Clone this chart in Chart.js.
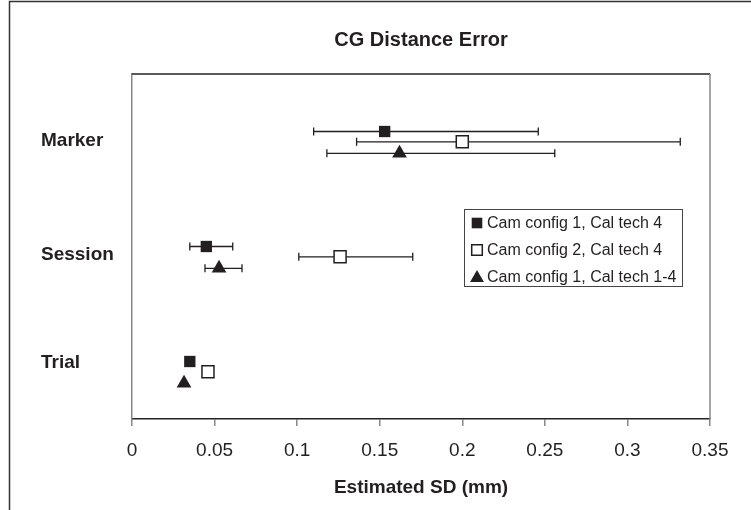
<!DOCTYPE html>
<html>
<head>
<meta charset="utf-8">
<script src="https://cdn.jsdelivr.net/npm/chart.js@4"></script>
<style>
  html, body { margin: 0; padding: 0; background: #fff; }
  #mycanvas { display: block; }
</style>
</head>
<body>
<canvas id="mycanvas" width="751" height="510"></canvas>
<script>
// categories and where their labels sit on the (hidden) numeric y axis
var categories = ['Trial', 'Session', 'Marker'];
var categoryPos = [0.49, 1.43, 2.42];

var xTicks = [0, 0.05, 0.1, 0.15, 0.2, 0.25, 0.3, 0.35];

var seriesNames = ['Cam config 1, Cal tech 4', 'Cam config 2, Cal tech 4', 'Cam config 1, Cal tech 1-4'];

// Cam config 1, Cal tech 4  (Trial, Session, Marker)
var s1Y    = [0.5, 1.5, 2.5];
var s1Mean = [0.035, 0.045, 0.153];
var s1Low  = [0.035, 0.035, 0.110];
var s1High = [0.035, 0.061, 0.246];

// Cam config 2, Cal tech 4
var s2Y    = [0.41, 1.41, 2.41];
var s2Mean = [0.046, 0.126, 0.200];
var s2Low  = [0.0435, 0.101, 0.136];
var s2High = [0.049, 0.170, 0.332];

// Cam config 1, Cal tech 1-4
var s3Y    = [0.31, 1.31, 2.31];
var s3Mean = [0.0315, 0.0527, 0.162];
var s3Low  = [0.0315, 0.0442, 0.118];
var s3High = [0.0315, 0.0666, 0.256];

function pts(xs, ys) {
	var out = [];
	for (var i in xs) {
		out.push({ x: xs[i], y: ys[i] });
	}
	return out;
}

var ink = '#231f20';
var font = "'Liberation Sans', Arial, sans-serif";

var chartdata = {
	datasets: [
		{
			label: seriesNames[0],
			data: pts(s1Mean, s1Y),
			low: s1Low, high: s1High,
			pointStyle: 'rect',
			pointRadius: 8,
			backgroundColor: ink,
			borderColor: ink,
			borderWidth: 0
		},
		{
			label: seriesNames[1],
			data: pts(s2Mean, s2Y),
			low: s2Low, high: s2High,
			pointStyle: 'rect',
			pointRadius: 8.5,
			backgroundColor: '#fff',
			borderColor: ink,
			borderWidth: 1.5
		},
		{
			label: seriesNames[2],
			data: pts(s3Mean, s3Y),
			low: s3Low, high: s3High,
			pointStyle: 'triangle',
			pointRadius: 8.5,
			backgroundColor: ink,
			borderColor: ink,
			borderWidth: 0
		}
	]
};

// frame, plot box, error bars, title and legend
var decor = {
	id: 'decor',
	beforeDraw: function(chart) {
		var c = chart.ctx;
		c.save();
		c.fillStyle = '#fff';
		c.fillRect(0, 0, chart.width, chart.height);
		c.strokeStyle = '#333';
		c.lineWidth = 1.5;
		c.beginPath();
		c.moveTo(9.5, chart.height);
		c.lineTo(9.5, 1.5);
		c.lineTo(chart.width, 1.5);
		c.stroke();
		c.restore();
	},
	beforeDatasetsDraw: function(chart) {
		var c = chart.ctx;
		var a = chart.chartArea;
		var xs = chart.scales.x, ys = chart.scales.y;
		c.save();
		// top and right edges of the plot box
		c.lineWidth = 1.5;
		c.strokeStyle = '#222';
		c.beginPath();
		c.moveTo(a.left, a.top);
		c.lineTo(a.right, a.top);
		c.stroke();
		c.strokeStyle = '#888';
		c.beginPath();
		c.moveTo(a.right, a.top);
		c.lineTo(a.right, a.bottom);
		c.stroke();

		// error bars
		c.strokeStyle = ink;
		c.lineWidth = 1.3;
		chart.data.datasets.forEach(function(ds) {
			for (var i = 0; i < ds.data.length; i++) {
				var y = ys.getPixelForValue(ds.data[i].y);
				var x1 = xs.getPixelForValue(ds.low[i]);
				var x2 = xs.getPixelForValue(ds.high[i]);
				if (x2 - x1 < 1) continue;
				c.beginPath();
				c.moveTo(x1, y); c.lineTo(x2, y);
				c.moveTo(x1, y - 4); c.lineTo(x1, y + 4);
				c.moveTo(x2, y - 4); c.lineTo(x2, y + 4);
				c.stroke();
			}
		});
		c.restore();
	},
	afterDraw: function(chart) {
		var c = chart.ctx;
		var a = chart.chartArea;
		c.save();
		c.fillStyle = ink;
		c.font = 'bold 20px ' + font;
		c.textAlign = 'center';
		c.textBaseline = 'middle';
		c.fillText('CG Distance Error', (a.left + a.right) / 2, 40);

		// legend box
		var bx = 464, by = 209, bw = 218, bh = 77;
		c.strokeStyle = '#444';
		c.lineWidth = 1;
		c.strokeRect(bx + 0.5, by + 0.5, bw, bh);
		c.font = '16px ' + font;
		c.textAlign = 'left';
		chart.data.datasets.forEach(function(ds, i) {
			var ry = by + 14 + i * 27;
			var st = {
				pointStyle: ds.pointStyle,
				radius: ds.pointStyle === 'triangle' ? 8 : 7.5,
				borderWidth: ds.borderWidth
			};
			c.fillStyle = ds.backgroundColor;
			c.strokeStyle = ds.borderColor;
			c.lineWidth = ds.borderWidth || 0;
			Chart.helpers.drawPoint(c, st, bx + 13, ry + (ds.pointStyle === 'triangle' ? 1 : 0));
			c.fillStyle = ink;
			c.fillText(ds.label, bx + 23, ry + 1);
		});
		c.restore();
	}
};

var ctx = document.getElementById('mycanvas');

var scatter = new Chart(ctx, {
	type: 'scatter',
	data: chartdata,
	plugins: [decor],
	options: {
		responsive: false,
		animation: false,
		layout: { padding: { left: 41, right: 41, top: 74, bottom: 0 } },
		plugins: {
			legend: { display: false },
			tooltip: { enabled: false }
		},
		scales: {
			x: {
				type: 'linear',
				min: 0,
				max: 0.35,
				afterBuildTicks: function(scale) {
					scale.ticks = xTicks.map(function(v) { return { value: v }; });
				},
				afterFit: function(scale) { scale.height = 91; },
				grid: {
					display: true,
					drawOnChartArea: false,
					drawTicks: true,
					tickLength: 7,
					color: '#888',
					lineWidth: 1.5
				},
				border: { display: true, color: '#222', width: 1.5 },
				ticks: {
					color: ink,
					font: { family: font, size: 19 },
					padding: 13,
					maxRotation: 0,
					callback: function(v) { return String(v); }
				},
				title: {
					display: true,
					text: 'Estimated SD (mm)',
					color: ink,
					font: { family: font, size: 19, weight: 'bold' },
					padding: { top: 0, bottom: 11 }
				}
			},
			y: {
				type: 'linear',
				min: 0,
				max: 3,
				afterBuildTicks: function(scale) {
					scale.ticks = categoryPos.map(function(v) { return { value: v }; });
				},
				afterFit: function(scale) { scale.width = 91; },
				grid: { display: false },
				border: { display: true, color: '#888', width: 1.5 },
				ticks: {
					color: ink,
					crossAlign: 'far',
					font: { family: font, size: 19, weight: 'bold' },
					callback: function(v, i) { return categories[i]; }
				}
			}
		}
	}
});
</script>
</body>
</html>
